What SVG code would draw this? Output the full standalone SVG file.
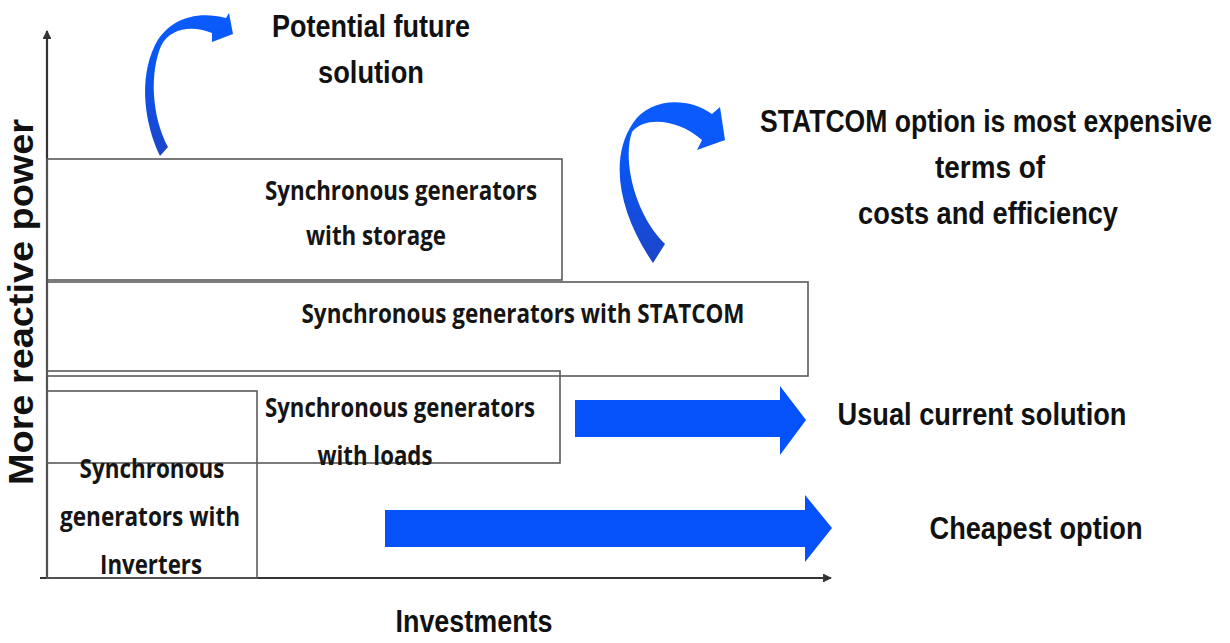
<svg xmlns="http://www.w3.org/2000/svg" width="1230" height="643" viewBox="0 0 1230 643">
<style>
.box{fill:none;stroke:#5a5a5a;stroke-width:1.6}
.axis{stroke:#333;stroke-width:2.2;fill:none}
.bt{font-family:"Open Sans","Liberation Sans",sans-serif;font-weight:bold;font-size:27px;fill:#151515}
.lt{font-family:"Liberation Sans Narrow","Liberation Sans",sans-serif;font-weight:bold;font-size:32px;fill:#111}
.blue{fill:#0552fa}
</style>
<defs>
<linearGradient id="cg" x1="0" y1="1" x2="0" y2="0">
<stop offset="0" stop-color="#1d45c8"/>
<stop offset="0.6" stop-color="#0a55f2"/>
<stop offset="1" stop-color="#0a5cff"/>
</linearGradient>
<marker id="ah" viewBox="0 0 10 10" refX="9" refY="5" markerWidth="4" markerHeight="4" orient="auto">
<path d="M0,0 L10,5 L0,10 Z" fill="#333"/>
</marker>
</defs>
<rect width="1230" height="643" fill="#fff"/>

<g id="axes">
<line class="axis" x1="47" y1="578" x2="47" y2="31" marker-end="url(#ah)"/>
<line class="axis" x1="40" y1="578" x2="831" y2="578" marker-end="url(#ah)"/>
<text x="33" y="302" transform="rotate(-90 33 302)" text-anchor="middle" font-family="Liberation Sans, sans-serif" font-weight="bold" font-size="35" fill="#111" textLength="366" lengthAdjust="spacingAndGlyphs">More reactive power</text>
<text class="lt" x="474" y="632" text-anchor="middle" textLength="157" lengthAdjust="spacingAndGlyphs">Investments</text>
</g>

<g id="node-storage">
<rect class="box" x="47" y="159" width="515" height="121"/>
<text class="bt" x="401" y="200" text-anchor="middle" textLength="272" lengthAdjust="spacingAndGlyphs">Synchronous generators</text>
<text class="bt" x="376" y="245" text-anchor="middle" textLength="140" lengthAdjust="spacingAndGlyphs">with storage</text>
</g>

<g id="node-statcom">
<rect class="box" x="47" y="282" width="761" height="94"/>
<text class="bt" x="523" y="323" text-anchor="middle" textLength="443" lengthAdjust="spacingAndGlyphs">Synchronous generators with STATCOM</text>
</g>

<g id="node-loads">
<rect class="box" x="47" y="371" width="513" height="92"/>
<text class="bt" x="400" y="417" text-anchor="middle" textLength="270" lengthAdjust="spacingAndGlyphs">Synchronous generators</text>
<text class="bt" x="375" y="465" text-anchor="middle" textLength="115" lengthAdjust="spacingAndGlyphs">with loads</text>
</g>

<g id="node-inverters">
<rect class="box" x="47" y="391" width="210" height="187"/>
<text class="bt" x="152" y="478" text-anchor="middle" textLength="145" lengthAdjust="spacingAndGlyphs">Synchronous</text>
<text class="bt" x="150" y="526" text-anchor="middle" textLength="180" lengthAdjust="spacingAndGlyphs">generators with</text>
<text class="bt" x="151" y="574" text-anchor="middle" textLength="102" lengthAdjust="spacingAndGlyphs">Inverters</text>
</g>

<g id="connectors">
<path fill="url(#cg)" d="M160,156 C145,125 138,80 155,45 C168,20 195,10 226,18 L229,13 L233,34 L212,42 L212,33 C192,25 170,28 161,46 C150,72 151,115 168,147 Z"/>
<path fill="url(#cg)" d="M653,263 C620,215 608,160 633,123 C648,100 685,95 712,114 L720,107 L725,140 L697,150 L702,140 C680,120 645,115 632,132 C622,160 635,215 665,244 Z"/>
<path class="blue" d="M575,400 L780,400 L780,386 L806,420 L780,455 L780,437 L575,437 Z"/>
<path class="blue" d="M385,510 L805,510 L805,495 L832,528 L805,562 L805,547 L385,547 Z"/>
</g>

<g id="labels">
<text class="lt" x="371" y="37" text-anchor="middle" textLength="198" lengthAdjust="spacingAndGlyphs">Potential future</text>
<text class="lt" x="371" y="83" text-anchor="middle" textLength="106" lengthAdjust="spacingAndGlyphs">solution</text>
<text class="lt" transform="translate(986 132) scale(0.83 1)" x="0" y="0" text-anchor="middle">STATCOM option is most expensive</text>
<text class="lt" x="990" y="178" text-anchor="middle" textLength="110" lengthAdjust="spacingAndGlyphs">terms of</text>
<text class="lt" x="988" y="224" text-anchor="middle" textLength="260" lengthAdjust="spacingAndGlyphs">costs and efficiency</text>
<text class="lt" x="982" y="425" text-anchor="middle" textLength="289" lengthAdjust="spacingAndGlyphs">Usual current solution</text>
<text class="lt" x="1036" y="539" text-anchor="middle" textLength="213" lengthAdjust="spacingAndGlyphs">Cheapest option</text>
</g>
</svg>
